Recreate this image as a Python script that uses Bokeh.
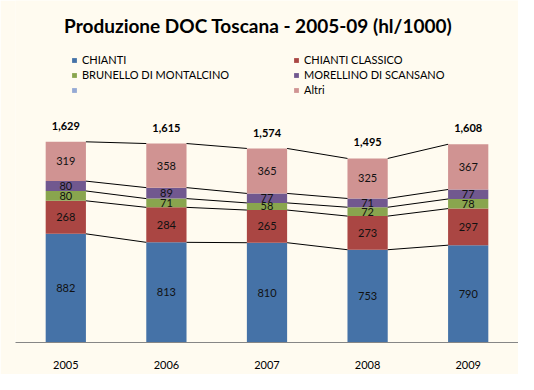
from bokeh.plotting import figure
from bokeh.models import ColumnDataSource, FactorRange, Range1d, Legend, LegendItem, Label
from bokeh.transform import dodge
from bokeh.core.properties import value
from bokeh.embed import file_html
from bokeh.resources import INLINE

years = ["2005", "2006", "2007", "2008", "2009"]
series_names = ["CHIANTI", "CHIANTI CLASSICO", "BRUNELLO DI MONTALCINO",
                "MORELLINO DI SCANSANO", "", "Altri"]
chianti = [882, 813, 810, 753, 790]
chianti_classico = [268, 284, 265, 273, 297]
brunello = [80, 71, 58, 72, 78]
morellino = [80, 89, 77, 71, 77]
vuoto = [0, 0, 0, 0, 0]
altri = [319, 358, 365, 325, 367]
totals = [1629, 1615, 1574, 1495, 1608]
title_text = "Produzione DOC  Toscana - 2005-09 (hl/1000)"

colors = ["#4572A7", "#AA4643", "#89A54E", "#71588F", "#95A9D4", "#D09392"]
BG = "#FFFBF0"
FONT = "Lato"

all_series = [chianti, chianti_classico, brunello, morellino, vuoto, altri]
keys = ["s%d" % i for i in range(len(all_series))]

data = {"year": years}
for k, s in zip(keys, all_series):
    data[k] = s
source = ColumnDataSource(data)

p = figure(width=518, height=374, output_backend="svg", toolbar_location=None,
           x_range=FactorRange(factors=years, range_padding=0),
           y_range=Range1d(0, 2776),
           min_border_left=15, min_border_right=0, min_border_top=0, min_border_bottom=32,
           background_fill_color=BG, border_fill_color=BG)
p.outline_line_color = None
p.grid.visible = False
p.yaxis.visible = False

renderers = p.vbar_stack(keys, x="year", width=0.4, color=colors, line_color=None, source=source)

# connecting lines between cumulative levels
cum = [0] * len(years)
levels = []
for s in all_series:
    cum = [c + v for c, v in zip(cum, s)]
    if any(v != 0 for v in s):
        levels.append(list(cum))
seg = {"x0": [], "x1": [], "y0": [], "y1": []}
for lv in levels:
    for i in range(len(years) - 1):
        seg["x0"].append(years[i])
        seg["x1"].append(years[i + 1])
        seg["y0"].append(lv[i])
        seg["y1"].append(lv[i + 1])
seg_src = ColumnDataSource(seg)
p.segment(x0=dodge("x0", 0.2, range=p.x_range), x1=dodge("x1", -0.2, range=p.x_range),
          y0="y0", y1="y1", line_color="#000000", line_width=1, source=seg_src)

# segment value labels
lab = {"x": [], "y": [], "t": []}
base = [0] * len(years)
for s in all_series:
    for i, v in enumerate(s):
        if v:
            lab["x"].append(years[i])
            lab["y"].append(base[i] + v / 2)
            lab["t"].append(str(v))
    base = [b + v for b, v in zip(base, s)]
p.text(x="x", y="y", text="t", source=ColumnDataSource(lab), text_align="center",
       text_baseline="middle", text_font=value(FONT), text_font_size="11px",
       text_color="#111111")

# totals
tot_src = ColumnDataSource({"x": years, "y": totals, "t": ["{:,}".format(t) for t in totals]})
p.text(x="x", y="y", text="t", source=tot_src, text_align="center", text_baseline="middle",
       y_offset=-16, text_font=value(FONT), text_font_size="11px", text_font_style="bold",
       text_color="#000000")

# axis
ax = p.xaxis[0]
ax.axis_line_color = "#868686"
ax.axis_line_width = 1
ax.major_tick_line_color = None
ax.minor_tick_line_color = None
ax.major_label_standoff = 12
ax.major_label_text_font = FONT
ax.major_label_text_font_size = "11px"
ax.major_label_text_color = "#000000"

# title
p.add_layout(Label(x=245, y=317, x_units="screen", y_units="screen", text=title_text,
                   text_align="center", text_baseline="middle", text_font=FONT,
                   text_font_size="19px", text_font_style="bold", text_color="#000000"))

# legends: two columns
def make_legend(idx, loc):
    items = [LegendItem(label=series_names[i] if series_names[i] else " ", renderers=[renderers[i]])
             for i in idx]
    lg = Legend(items=items, location=loc, orientation="vertical",
                padding=0, margin=0, spacing=0, border_line_color=None,
                background_fill_alpha=0, glyph_width=6, glyph_height=6,
                label_height=15, label_standoff=5,
                label_text_font=FONT, label_text_font_size="11px", label_text_color="#000000")
    return lg

p.add_layout(make_legend([0, 2, 4], (56, 245)))
p.add_layout(make_legend([1, 3, 5], (278, 245)))

open("out.html", "w").write(file_html(p, INLINE))
